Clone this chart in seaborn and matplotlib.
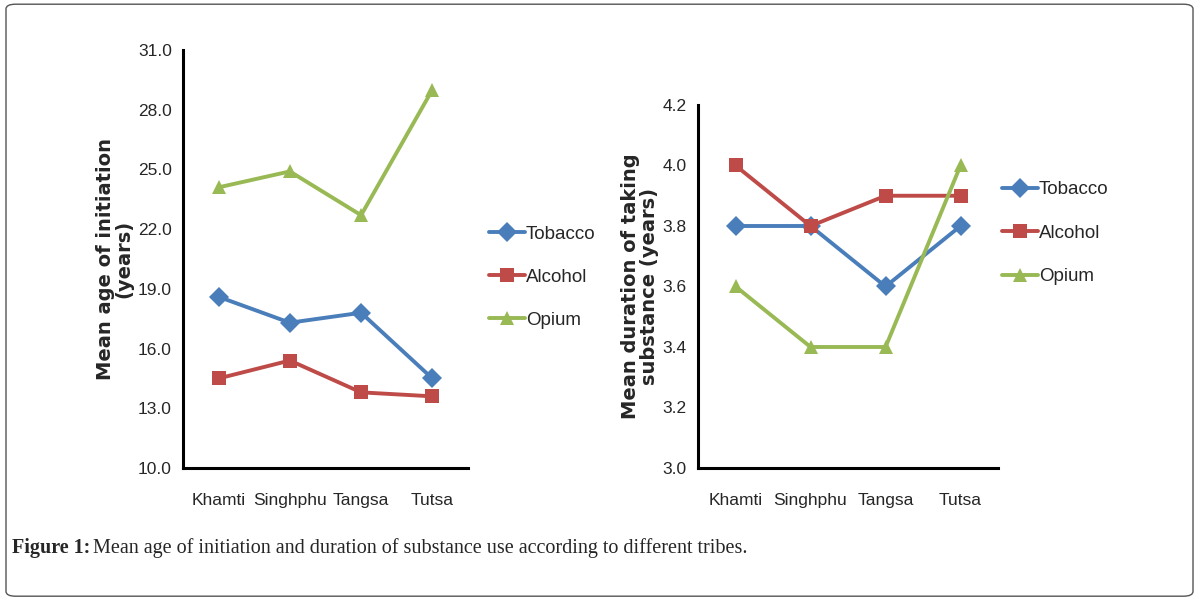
import pandas as pd
import matplotlib
matplotlib.use("Agg")
import matplotlib.pyplot as plt
from matplotlib.patches import FancyBboxPatch
import seaborn as sns

tribes = ["Khamti", "Singhphu", "Tangsa", "Tutsa"]
substances = ["Tobacco", "Alcohol", "Opium"]

# mean age of initiation (years)
age_tobacco = [18.6, 17.3, 17.8, 14.5]
age_alcohol = [14.5, 15.4, 13.8, 13.6]
age_opium = [24.1, 24.9, 22.7, 29.0]

# mean duration of taking substance (years)
dur_tobacco = [3.8, 3.8, 3.6, 3.8]
dur_alcohol = [4.0, 3.8, 3.9, 3.9]
dur_opium = [3.6, 3.4, 3.4, 4.0]

colors = {"Tobacco": "#4a7ebb", "Alcohol": "#be4b48", "Opium": "#98b954"}
markers = {"Tobacco": "D", "Alcohol": "s", "Opium": "^"}


def make_df(tob, alc, opi):
    rows = []
    for name, vals in zip(substances, [tob, alc, opi]):
        for t, v in zip(tribes, vals):
            rows.append({"tribe": t, "substance": name, "value": v})
    return pd.DataFrame(rows)


age_df = make_df(age_tobacco, age_alcohol, age_opium)
dur_df = make_df(dur_tobacco, dur_alcohol, dur_opium)

sns.set_style("white")
plt.rcParams["font.family"] = ["Liberation Sans", "DejaVu Sans"]

fig = plt.figure(figsize=(11.99, 6.01), dpi=100)

# rounded outer frame
fig.patches.append(FancyBboxPatch((0.005, 0.008), 0.99, 0.985,
                                  boxstyle="round,pad=0,rounding_size=0.008",
                                  transform=fig.transFigure, fill=False,
                                  edgecolor="#555555", linewidth=1.0))

ax1 = fig.add_axes([0.1526, 0.2213, 0.2377, 0.6955])
ax2 = fig.add_axes([0.5822, 0.2213, 0.2502, 0.6040])


def draw(ax, df, ylim, yticks, ylabel, leg_anchor, spacing):
    sns.lineplot(data=df, x="tribe", y="value", hue="substance", style="substance",
                 palette=colors, markers=markers, dashes=False, linewidth=2.8,
                 markersize=10, markeredgewidth=0, sort=False, ax=ax, legend=False)
    ax.set_xlim(-0.5, 3.5)
    ax.set_ylim(*ylim)
    ax.set_yticks(yticks)
    ax.set_yticklabels(["{:.1f}".format(v) for v in yticks], fontsize=12.5)
    ax.set_xticks(range(len(tribes)))
    ax.set_xticklabels(tribes, fontsize=12.5)
    ax.set_xticks([-0.5, 0.5, 1.5, 2.5, 3.5], minor=True)
    ax.tick_params(axis="x", which="major", length=0, pad=18)
    ax.tick_params(axis="x", which="minor", length=5, width=2, direction="out", color="black")
    ax.tick_params(axis="y", length=5, width=2, direction="out", color="black", pad=3)
    ax.set_xlabel("")
    ax.set_ylabel(ylabel, fontsize=14, fontweight="bold", family="DejaVu Sans",
                  linespacing=0.95, labelpad=3)
    for s in ["top", "right"]:
        ax.spines[s].set_visible(False)
    for s in ["left", "bottom"]:
        ax.spines[s].set_linewidth(2.2)
        ax.spines[s].set_color("black")
    handles = [plt.Line2D([], [], color=colors[n], marker=markers[n], linewidth=2.8,
                          markersize=10, markeredgewidth=0) for n in substances]
    ax.legend(handles, substances, loc="center left", bbox_to_anchor=leg_anchor,
              bbox_transform=fig.transFigure, frameon=False, fontsize=13.5,
              handlelength=1.9, handletextpad=0.05, labelspacing=spacing, borderpad=0,
              borderaxespad=0)


draw(ax1, age_df, (10, 31), [10, 13, 16, 19, 22, 25, 28, 31],
     "Mean age of initiation\n(years)", (0.408, 0.539), 1.38)
draw(ax2, dur_df, (3.0, 4.2), [3.0, 3.2, 3.4, 3.6, 3.8, 4.0, 4.2],
     "Mean duration of taking\nsubstance (years)", (0.836, 0.612), 1.4)

cap1 = fig.text(0.010, 0.088, "Figure 1:", family="Liberation Serif", fontweight="bold",
                fontsize=14.5, va="center")
fig.canvas.draw()
bb = cap1.get_window_extent().transformed(fig.transFigure.inverted())
fig.text(bb.x1 + 0.002, 0.088,
         "Mean age of initiation and duration of substance use according to different tribes.",
         family="Liberation Serif", fontsize=14.5, va="center")

fig.savefig("out.png", dpi=100)
